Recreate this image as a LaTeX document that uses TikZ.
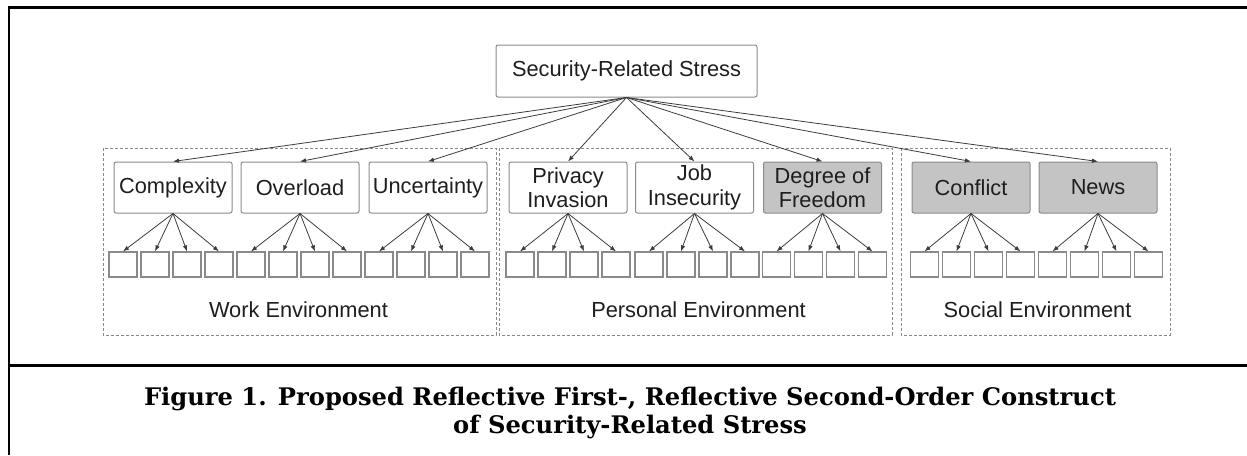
\documentclass[tikz,border=0pt]{standalone}
\usepackage{fontspec}
\setmainfont{Liberation Sans}
\newfontfamily\capfont{DejaVu Serif}
\usetikzlibrary{arrows.meta}
\definecolor{boxline}{HTML}{8A8A8A}
\definecolor{shade}{HTML}{C4C4C4}
\definecolor{arrowline}{HTML}{3C3C3C}
\definecolor{ink}{HTML}{1E1E1E}
\tikzset{
  construct/.style={draw=boxline, line width=1pt, rounded corners=2pt,
    minimum width=118pt, minimum height=51pt, inner sep=0pt, align=center,
    text=ink, font=\fontsize{21.8}{24.5}\selectfont},
  shaded/.style={construct, fill=shade},
  item/.style={draw=boxline, line width=1.2pt, minimum width=28pt,
    minimum height=25pt, inner sep=0pt},
  env/.style={draw=boxline, line width=0.8pt, dash pattern=on 3pt off 2pt},
  envlabel/.style={anchor=base, text=ink, font=\fontsize{21.8}{24.5}\selectfont},
  link/.style={draw=arrowline, line width=0.8pt,
    -{Latex[length=6pt,width=4.5pt]}},
  frame/.style={draw=black, line width=2.6pt},
  captext/.style={anchor=base, font=\capfont\bfseries\fontsize{24.2}{29}\selectfont}
}
\begin{document}
\begin{tikzpicture}[x=1pt, y=-1pt]
  \useasboundingbox (0,0) rectangle (1247,455);

  % outer frame and caption rule
  \draw[frame] (9,455) -- (9,7.5) -- (1247,7.5);
  \draw[frame] (9,365.5) -- (1247,365.5);

  % environment groupings
  \draw[env] (103,148) rectangle (496,335);
  \draw[env] (499,148) rectangle (892,335);
  \draw[env] (901,148) rectangle (1170,335);
  \node[envlabel] (lwork) at (298.5,317) {Work Environment};
  \node[envlabel] (lpers) at (698.5,317) {Personal Environment};
  \node[envlabel] (lsoc)  at (1037.5,317) {Social Environment};

  % second-order construct
  \node[construct, minimum width=261pt, minimum height=52pt] (top) at (626.5,71)
    {Security-Related Stress};

  % first-order constructs
  \node[construct] (c1) at (173,187.5)   {Complexity};
  \node[construct] (c2) at (300,187.5)   {Overload};
  \node[construct] (c3) at (428,187.5)   {Uncertainty};
  \node[construct] (c4) at (568,187.5)   {Privacy\\Invasion};
  \node[construct] (c5) at (694.5,187.5) {Job\\Insecurity};
  \node[shaded]    (c6) at (822.5,187.5) {Degree of\\Freedom};
  \node[shaded]    (c7) at (971,187.5)   {Conflict};
  \node[shaded]    (c8) at (1098,187.5)  {News};

  \foreach \c in {c1,c2,c3,c4,c5,c6,c7,c8}
    \draw[link] (top.south) -- (\c.north);

  % indicators, four per first-order construct
  \foreach \c/\x in {c1/171,c2/299,c3/427,c4/568,c5/697,c6/824.5,c7/972.5,c8/1100.5}{
    \foreach \k/\dx in {1/-48,2/-16,3/16,4/48}{
      \node[item] (\c-i\k) at (\x+\dx,264.5) {};
      \draw[link] (\c.south) -- (\c-i\k.north);
    }
  }

  % caption
  \node[captext] (cap1) at (630,405)
    {Figure 1. Proposed Reflective First-, Reflective Second-Order Construct};
  \node[captext] (cap2) at (630,433) {of Security-Related Stress};
\end{tikzpicture}
\end{document}
